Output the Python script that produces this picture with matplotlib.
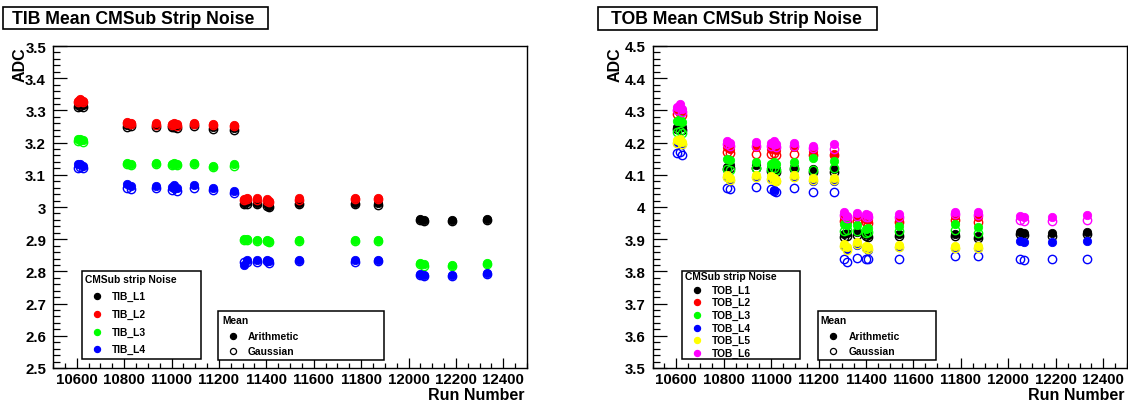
import numpy as np
import matplotlib
matplotlib.use("Agg")
import matplotlib.pyplot as plt
from matplotlib.ticker import MultipleLocator, FuncFormatter
from matplotlib.patches import Rectangle
from matplotlib.lines import Line2D

plt.rcParams['font.family'] = ['Liberation Sans', 'DejaVu Sans']

nan = np.nan
runs = [10605, 10615, 10625, 10812, 10828, 10935, 11000, 11012, 11022, 11095, 11177, 11265,
        11306, 11318, 11360, 11402, 11410, 11538, 11775, 11873, 12048, 12064, 12183, 12332]

# ---------------- TIB ----------------
tib_layers = ["TIB_L1", "TIB_L2", "TIB_L3", "TIB_L4"]
tib_l1_arith = [3.318, 3.322, 3.316, 3.255, 3.258, 3.255, 3.253, 3.256, 3.252, 3.258, 3.248, 3.245,
                3.012, 3.015, 3.013, 3.008, 3.004, 3.013, 3.012, 3.012, 2.963, 2.961, 2.961, 2.963]
tib_l1_gauss = [3.312, 3.315, 3.310, 3.250, 3.252, 3.250, 3.248, 3.250, 3.246, 3.252, 3.243, 3.240,
                3.008, 3.010, 3.008, 3.003, 3.000, 3.008, 3.008, 3.007, 2.960, 2.958, 2.958, 2.960]
tib_l2_arith = [3.330, 3.335, 3.328, 3.265, 3.262, 3.260, 3.258, 3.262, 3.257, 3.262, 3.258, 3.255,
                3.025, 3.028, 3.027, 3.024, 3.020, 3.027, 3.028, 3.028, nan, nan, nan, nan]
tib_l2_gauss = [3.327, 3.331, 3.325, 3.261, 3.258, 3.256, 3.254, 3.258, 3.253, 3.258, 3.254, 3.251,
                3.021, 3.024, 3.023, 3.020, 3.016, 3.023, 3.024, 3.024, nan, nan, nan, nan]
tib_l3_arith = [3.210, 3.212, 3.207, 3.138, 3.135, 3.136, 3.135, 3.138, 3.133, 3.137, 3.128, 3.132,
                2.900, 2.902, 2.898, 2.897, 2.895, 2.899, 2.899, 2.899, 2.826, 2.822, 2.820, 2.826]
tib_l3_gauss = [3.205, 3.208, 3.203, 3.134, 3.131, 3.132, 3.131, 3.134, 3.129, 3.133, 3.124, 3.128,
                2.896, 2.898, 2.894, 2.893, 2.891, 2.895, 2.895, 2.895, 2.822, 2.818, 2.816, 2.822]
tib_l4_arith = [3.132, 3.135, 3.128, 3.072, 3.066, 3.065, 3.062, 3.068, 3.058, 3.068, 3.060, 3.050,
                2.820, 2.835, 2.836, 2.836, 2.832, 2.836, 2.834, 2.836, 2.792, 2.790, 2.790, 2.795]
tib_l4_gauss = [3.122, 3.125, 3.120, 3.060, 3.056, 3.058, 3.053, 3.058, 3.050, 3.058, 3.052, 3.045,
                2.828, 2.830, 2.830, 2.831, 2.827, 2.831, 2.829, 2.831, 2.788, 2.786, 2.786, 2.791]

# ---------------- TOB ----------------
tob_layers = ["TOB_L1", "TOB_L2", "TOB_L3", "TOB_L4", "TOB_L5", "TOB_L6"]
tob_l1_arith = [4.250, 4.255, 4.248, 4.125, 4.130, 4.130, 4.120, 4.123, 4.118, 4.125, 4.118, 4.118,
                3.915, 3.918, 3.921, 3.916, 3.913, 3.916, 3.916, 3.911, 3.923, 3.920, 3.918, 3.923]
tob_l1_gauss = [4.243, 4.247, 4.240, 4.118, 4.122, 4.122, 4.113, 4.116, 4.110, 4.118, 4.110, 4.110,
                3.908, 3.910, 3.913, 3.909, 3.906, 3.909, 3.909, 3.904, 3.916, 3.913, 3.911, 3.916]
tob_l2_arith = [4.300, 4.305, 4.298, 4.185, 4.180, 4.185, 4.180, 4.183, 4.178, 4.185, 4.175, 4.165,
                3.968, 3.970, 3.968, 3.963, 3.960, 3.963, 3.973, 3.968, nan, nan, nan, nan]
tob_l2_gauss = [4.289, 4.292, 4.286, 4.170, 4.168, 4.165, 4.165, 4.168, 4.162, 4.165, 4.160, 4.160,
                3.955, 3.958, 3.955, 3.952, 3.950, 3.952, 3.960, 3.953, nan, nan, nan, nan]
tob_l3_arith = [4.268, 4.272, 4.265, 4.150, 4.145, 4.139, 4.135, 4.140, 4.132, 4.140, 4.151, 4.144,
                3.947, 3.945, 3.944, 3.932, 3.935, 3.942, 3.947, 3.937, nan, nan, nan, nan]
tob_l3_gauss = [4.232, 4.236, 4.230, 4.118, 4.115, 4.122, 4.118, 4.120, 4.115, 4.120, 4.115, 4.120,
                3.925, 3.928, 3.925, 3.920, 3.922, 3.925, 3.928, 3.920, nan, nan, nan, nan]
tob_l4_arith = [4.200, 4.205, 4.195, 4.092, 4.085, 4.092, 4.087, 4.052, 4.080, 4.092, 4.082, 4.082,
                3.878, 3.870, 3.883, 3.873, 3.868, 3.875, 3.873, 3.873, 3.893, 3.890, 3.890, 3.894]
tob_l4_gauss = [4.168, 4.172, 4.163, 4.058, 4.055, 4.061, 4.055, 4.050, 4.047, 4.060, 4.048, 4.048,
                3.838, 3.828, 3.843, 3.840, 3.838, 3.840, 3.847, 3.847, 3.837, 3.835, 3.837, 3.837]
tob_l5_arith = [4.208, 4.212, 4.202, 4.100, 4.090, 4.100, 4.095, 4.090, 4.085, 4.100, 4.089, 4.089,
                3.885, 3.875, 3.890, 3.880, 3.875, 3.882, 3.880, 3.880, nan, nan, nan, nan]
tob_l5_gauss = [4.200, 4.205, 4.196, 4.093, 4.085, 4.094, 4.088, 4.084, 4.080, 4.094, 4.083, 4.083,
                3.878, 3.868, 3.884, 3.874, 3.870, 3.876, 3.874, 3.874, nan, nan, nan, nan]
tob_l6_arith = [4.310, 4.320, 4.305, 4.205, 4.198, 4.201, 4.200, 4.205, 4.195, 4.200, 4.190, 4.196,
                3.983, 3.972, 3.981, 3.978, 3.975, 3.978, 3.986, 3.983, 3.972, 3.968, 3.968, 3.975]
tob_l6_gauss = [4.300, 4.310, 4.295, 4.195, 4.190, 4.190, 4.190, 4.195, 4.185, 4.190, 4.182, 4.180,
                3.975, 3.965, 3.973, 3.970, 3.968, 3.970, 3.978, 3.975, 3.960, 3.958, 3.955, 3.960]

colors = ["#000000", "#ff0000", "#00ff00", "#0000ff", "#ffff00", "#ff00ff"]

W, H = 1128, 406
fig = plt.figure(figsize=(W / 100, H / 100), dpi=100)


def fx(px):
    return px / W


def fy(py):
    return 1 - py / H


def make_axes(x0, x1, y0, y1):
    ax = fig.add_axes([fx(x0), fy(y1), fx(x1) - fx(x0), fy(y0) - fy(y1)])
    return ax


def style_axes(ax, ylo, yhi):
    ax.set_xlim(10500, 12500)
    ax.set_ylim(ylo, yhi)
    ax.xaxis.set_major_locator(MultipleLocator(200))
    ax.xaxis.set_minor_locator(MultipleLocator(50))
    ax.yaxis.set_major_locator(MultipleLocator(0.1))
    ax.yaxis.set_minor_locator(MultipleLocator(0.02))
    ax.yaxis.set_major_formatter(FuncFormatter(lambda v, p: f"{round(v, 2):g}"))
    ax.xaxis.set_major_formatter(FuncFormatter(lambda v, p: f"{int(round(v))}"))
    ax.tick_params(axis='both', which='both', direction='in', top=False, right=False,
                   color='black', width=0.9)
    ax.tick_params(axis='y', which='major', length=10, pad=5, labelsize=10.8)
    ax.tick_params(axis='y', which='minor', length=5)
    ax.tick_params(axis='x', which='major', length=7.2, pad=3, labelsize=10.8)
    ax.tick_params(axis='x', which='minor', length=3.6)
    for lab in ax.get_xticklabels() + ax.get_yticklabels():
        lab.set_fontweight('bold')
    for s in ax.spines.values():
        s.set_linewidth(1.0)


def draw_series(ax, series):
    for arith, gauss, col in series:
        ax.plot(runs, arith, linestyle='none', marker='o', ms=6.0, mfc=col, mec=col, mew=0.6)
        ax.plot(runs, gauss, linestyle='none', marker='o', ms=6.0, mfc='none', mec=col, mew=1.0)


def title_box(x0, x1, y0, y1, text, tx):
    fig.add_artist(Rectangle((fx(x0), fy(y1)), fx(x1) - fx(x0), fy(y0) - fy(y1),
                             transform=fig.transFigure, facecolor='white', edgecolor='black', lw=1.2))
    fig.text(fx(tx), fy((y0 + y1) / 2 + 0.5), text, ha='left', va='center', fontsize=12.7,
             fontweight='bold')


def legend_box(x0, x1, y0, y1, header, hx, hy, entries, mx, tx, ys, filled_list):
    fig.add_artist(Rectangle((fx(x0), fy(y1)), fx(x1) - fx(x0), fy(y0) - fy(y1),
                             transform=fig.transFigure, facecolor='white', edgecolor='black',
                             lw=1.1, zorder=5))
    fig.text(fx(hx), fy(hy), header, ha='left', va='center', fontsize=7.4, fontweight='bold',
             zorder=6)
    for (label, col), yy, filled in zip(entries, ys, filled_list):
        fig.add_artist(Line2D([fx(mx)], [fy(yy)], transform=fig.transFigure, marker='o', ms=4.4,
                              mfc=col if filled else 'none', mec=col, mew=0.9, linestyle='none',
                              zorder=6))
        fig.text(fx(tx), fy(yy), label, ha='left', va='center', fontsize=7.4, fontweight='bold',
                 zorder=6)


# ---------------- left panel ----------------
axL = make_axes(53, 527, 47, 369)
style_axes(axL, 2.5, 3.5)
draw_series(axL, [(tib_l1_arith, tib_l1_gauss, colors[0]),
                  (tib_l2_arith, tib_l2_gauss, colors[1]),
                  (tib_l3_arith, tib_l3_gauss, colors[2]),
                  (tib_l4_arith, tib_l4_gauss, colors[3])])
title_box(3, 268, 8, 30, "TIB Mean CMSub Strip Noise", 12)
fig.text(fx(20), fy(47), "ADC", rotation=90, ha='center', va='top', fontsize=11.5, fontweight='bold')
fig.text(fx(525), fy(396), "Run Number", ha='right', va='center', fontsize=11.5, fontweight='bold')
legend_box(82, 201, 272, 360, "CMSub strip Noise", 85, 280.5,
           list(zip(tib_layers, colors[:4])), 96.7, 111.7, [297.3, 315.3, 332.7, 350.3],
           [True] * 4)
legend_box(218, 384, 312, 361, "Mean", 222, 321,
           [("Arithmetic", "black"), ("Gaussian", "black")], 233, 248, [337, 352.3],
           [True, False])

# ---------------- right panel ----------------
axR = make_axes(652.5, 1127, 47, 369)
style_axes(axR, 3.5, 4.5)
draw_series(axR, [(tob_l1_arith, tob_l1_gauss, colors[0]),
                  (tob_l2_arith, tob_l2_gauss, colors[1]),
                  (tob_l3_arith, tob_l3_gauss, colors[2]),
                  (tob_l4_arith, tob_l4_gauss, colors[3]),
                  (tob_l5_arith, tob_l5_gauss, colors[4]),
                  (tob_l6_arith, tob_l6_gauss, colors[5])])
title_box(598, 877, 8, 31, "TOB Mean CMSub Strip Noise", 611)
fig.text(fx(615.5), fy(47), "ADC", rotation=90, ha='center', va='top', fontsize=11.5,
         fontweight='bold')
fig.text(fx(1125), fy(396), "Run Number", ha='right', va='center', fontsize=11.5, fontweight='bold')
legend_box(682, 800, 272, 360, "CMSub strip Noise", 685, 277.3,
           list(zip(tob_layers, colors)), 696.7, 711.7,
           [290.7, 303.3, 315.7, 329, 340.7, 353.7], [True] * 6)
legend_box(818, 936, 312, 361, "Mean", 820.7, 321,
           [("Arithmetic", "black"), ("Gaussian", "black")], 832.7, 848.3, [337, 352.3],
           [True, False])

fig.savefig("out.png", dpi=100, facecolor='white')
